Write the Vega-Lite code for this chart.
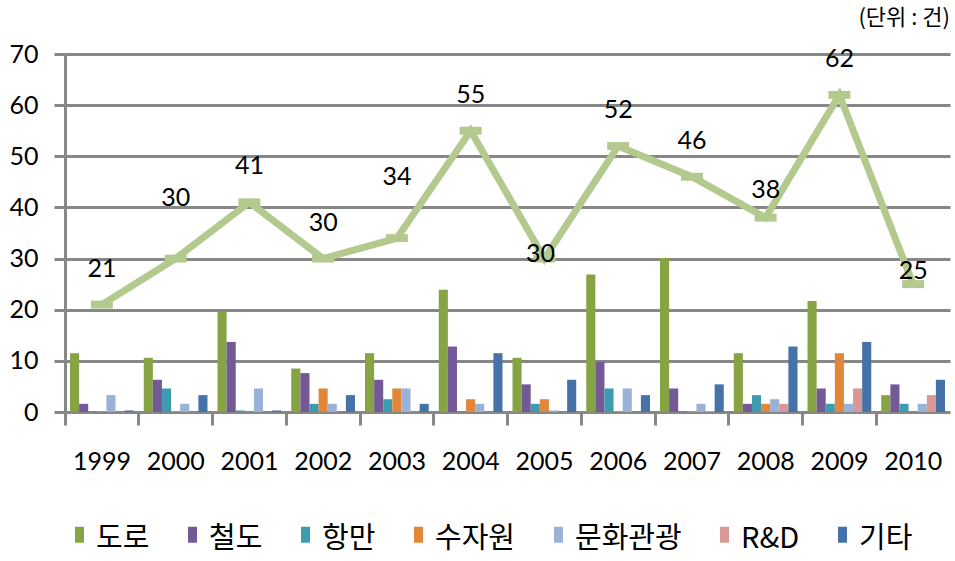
{
  "$schema": "https://vega.github.io/schema/vega-lite/v6.json",
  "width": 885,
  "height": 358,
  "autosize": {"type": "none"},
  "padding": {"left": 65, "top": 54, "right": 5, "bottom": 149},
  "config": {"font": "Lato", "view": {"stroke": null}},
  "title": {"text": "(단위  :  건)", "anchor": "end", "font": "Noto Sans CJK KR", "fontSize": 22, "fontWeight": "normal", "color": "#000000", "offset": 12},
  "datasets": {
    "bars": [
      {"year": "1999", "cat": "도로", "value": 11.5}, {"year": "1999", "cat": "철도", "value": 1.6}, {"year": "1999", "cat": "항만", "value": 0.2}, {"year": "1999", "cat": "수자원", "value": 0.2}, {"year": "1999", "cat": "문화관광", "value": 3.3}, {"year": "1999", "cat": "R&D", "value": 0}, {"year": "1999", "cat": "기타", "value": 0.3},
      {"year": "2000", "cat": "도로", "value": 10.6}, {"year": "2000", "cat": "철도", "value": 6.3}, {"year": "2000", "cat": "항만", "value": 4.6}, {"year": "2000", "cat": "수자원", "value": 0.2}, {"year": "2000", "cat": "문화관광", "value": 1.6}, {"year": "2000", "cat": "R&D", "value": 0}, {"year": "2000", "cat": "기타", "value": 3.3},
      {"year": "2001", "cat": "도로", "value": 19.6}, {"year": "2001", "cat": "철도", "value": 13.7}, {"year": "2001", "cat": "항만", "value": 0.3}, {"year": "2001", "cat": "수자원", "value": 0}, {"year": "2001", "cat": "문화관광", "value": 4.6}, {"year": "2001", "cat": "R&D", "value": 0}, {"year": "2001", "cat": "기타", "value": 0.3},
      {"year": "2002", "cat": "도로", "value": 8.5}, {"year": "2002", "cat": "철도", "value": 7.6}, {"year": "2002", "cat": "항만", "value": 1.6}, {"year": "2002", "cat": "수자원", "value": 4.6}, {"year": "2002", "cat": "문화관광", "value": 1.6}, {"year": "2002", "cat": "R&D", "value": 0}, {"year": "2002", "cat": "기타", "value": 3.3},
      {"year": "2003", "cat": "도로", "value": 11.5}, {"year": "2003", "cat": "철도", "value": 6.3}, {"year": "2003", "cat": "항만", "value": 2.5}, {"year": "2003", "cat": "수자원", "value": 4.6}, {"year": "2003", "cat": "문화관광", "value": 4.6}, {"year": "2003", "cat": "R&D", "value": 0}, {"year": "2003", "cat": "기타", "value": 1.6},
      {"year": "2004", "cat": "도로", "value": 23.9}, {"year": "2004", "cat": "철도", "value": 12.8}, {"year": "2004", "cat": "항만", "value": 0.2}, {"year": "2004", "cat": "수자원", "value": 2.5}, {"year": "2004", "cat": "문화관광", "value": 1.6}, {"year": "2004", "cat": "R&D", "value": 0}, {"year": "2004", "cat": "기타", "value": 11.5},
      {"year": "2005", "cat": "도로", "value": 10.6}, {"year": "2005", "cat": "철도", "value": 5.4}, {"year": "2005", "cat": "항만", "value": 1.6}, {"year": "2005", "cat": "수자원", "value": 2.5}, {"year": "2005", "cat": "문화관광", "value": 0.3}, {"year": "2005", "cat": "R&D", "value": 0}, {"year": "2005", "cat": "기타", "value": 6.3},
      {"year": "2006", "cat": "도로", "value": 26.9}, {"year": "2006", "cat": "철도", "value": 9.8}, {"year": "2006", "cat": "항만", "value": 4.6}, {"year": "2006", "cat": "수자원", "value": 0.2}, {"year": "2006", "cat": "문화관광", "value": 4.6}, {"year": "2006", "cat": "R&D", "value": 0}, {"year": "2006", "cat": "기타", "value": 3.3},
      {"year": "2007", "cat": "도로", "value": 30.1}, {"year": "2007", "cat": "철도", "value": 4.6}, {"year": "2007", "cat": "항만", "value": 0.2}, {"year": "2007", "cat": "수자원", "value": 0.2}, {"year": "2007", "cat": "문화관광", "value": 1.6}, {"year": "2007", "cat": "R&D", "value": 0.2}, {"year": "2007", "cat": "기타", "value": 5.4},
      {"year": "2008", "cat": "도로", "value": 11.5}, {"year": "2008", "cat": "철도", "value": 1.6}, {"year": "2008", "cat": "항만", "value": 3.3}, {"year": "2008", "cat": "수자원", "value": 1.6}, {"year": "2008", "cat": "문화관광", "value": 2.5}, {"year": "2008", "cat": "R&D", "value": 1.6}, {"year": "2008", "cat": "기타", "value": 12.8},
      {"year": "2009", "cat": "도로", "value": 21.7}, {"year": "2009", "cat": "철도", "value": 4.6}, {"year": "2009", "cat": "항만", "value": 1.6}, {"year": "2009", "cat": "수자원", "value": 11.5}, {"year": "2009", "cat": "문화관광", "value": 1.6}, {"year": "2009", "cat": "R&D", "value": 4.6}, {"year": "2009", "cat": "기타", "value": 13.7},
      {"year": "2010", "cat": "도로", "value": 3.3}, {"year": "2010", "cat": "철도", "value": 5.4}, {"year": "2010", "cat": "항만", "value": 1.6}, {"year": "2010", "cat": "수자원", "value": 0}, {"year": "2010", "cat": "문화관광", "value": 1.6}, {"year": "2010", "cat": "R&D", "value": 3.3}, {"year": "2010", "cat": "기타", "value": 6.3}
    ],
    "total": [
      {"year": "1999", "total": 21}, {"year": "2000", "total": 30}, {"year": "2001", "total": 41}, {"year": "2002", "total": 30},
      {"year": "2003", "total": 34}, {"year": "2004", "total": 55}, {"year": "2005", "total": 30}, {"year": "2006", "total": 52},
      {"year": "2007", "total": 46}, {"year": "2008", "total": 38}, {"year": "2009", "total": 62}, {"year": "2010", "total": 25}
    ]
  },
  "layer": [
    {
      "data": {"name": "bars"},
      "mark": {"type": "bar"},
      "encoding": {
        "x": {"field": "year", "type": "nominal", "scale": {"paddingInner": 0, "paddingOuter": 0},
          "axis": {"title": null, "orient": "bottom", "bandPosition": 0, "ticks": true, "tickSize": 13, "tickWidth": 3, "tickColor": "#878787",
            "domain": false, "labelAngle": 0, "labelAlign": "center", "labelFontSize": 25, "labelColor": "#000000", "labelPadding": 24}},
        "xOffset": {"field": "cat", "type": "nominal", "sort": ["도로", "철도", "항만", "수자원", "문화관광", "R&D", "기타"], "scale": {"paddingInner": 0, "paddingOuter": 0.55}},
        "y": {"field": "value", "type": "quantitative", "scale": {"domain": [0, 70], "nice": false},
          "axis": {"title": null, "values": [0, 10, 20, 30, 40, 50, 60, 70], "grid": true, "gridColor": "#878787", "gridWidth": 3, "gridOpacity": 1,
            "domainColor": "#878787", "domainWidth": 3, "tickColor": "#878787", "tickWidth": 3, "tickSize": 11,
            "labelFontSize": 25, "labelColor": "#000000", "labelPadding": 16}},
        "color": {"field": "cat", "type": "nominal",
          "scale": {"domain": ["도로", "철도", "항만", "수자원", "문화관광", "R&D", "기타"],
            "range": ["#86a444", "#735a97", "#3e9cb1", "#e2873a", "#9ab1d8", "#d99795", "#4572a7"]},
          "legend": {"title": null, "orient": "bottom", "direction": "horizontal", "symbolType": "M-0.6,-1.6H0.6V0.53H-0.6Z", "symbolSize": 225,
            "labelFontSize": 29, "labelFont": "Noto Sans CJK KR", "labelColor": "#000000", "labelOffset": 2, "columnPadding": 28, "offset": 50, "symbolStrokeWidth": 0}}
      }
    },
    {
      "data": {"name": "total"},
      "mark": {"type": "line", "color": "#b3c98e", "strokeWidth": 7},
      "encoding": {
        "x": {"field": "year", "type": "nominal"},
        "y": {"field": "total", "type": "quantitative"}
      }
    },
    {
      "data": {"name": "total"},
      "mark": {"type": "point", "shape": "M-1,-0.36H1V0.36H-1Z", "size": 484, "filled": true, "color": "#b3c98e", "opacity": 1},
      "encoding": {
        "x": {"field": "year", "type": "nominal"},
        "y": {"field": "total", "type": "quantitative"}
      }
    },
    {
      "data": {"name": "total"},
      "transform": [{"filter": "indexof(['1999','2001','2002','2004','2006','2007','2009'], datum.year) >= 0"}],
      "mark": {"type": "text", "fontSize": 25, "dy": -36, "color": "#000000"},
      "encoding": {
        "x": {"field": "year", "type": "nominal"},
        "y": {"field": "total", "type": "quantitative"},
        "text": {"field": "total"}
      }
    },
    {
      "data": {"name": "total"},
      "transform": [{"filter": "datum.year == '2000' || datum.year == '2003'"}],
      "mark": {"type": "text", "fontSize": 25, "dy": -61, "color": "#000000"},
      "encoding": {
        "x": {"field": "year", "type": "nominal"},
        "y": {"field": "total", "type": "quantitative"},
        "text": {"field": "total"}
      }
    },
    {
      "data": {"name": "total"},
      "transform": [{"filter": "datum.year == '2008'"}],
      "mark": {"type": "text", "fontSize": 25, "dy": -28, "color": "#000000"},
      "encoding": {
        "x": {"field": "year", "type": "nominal"},
        "y": {"field": "total", "type": "quantitative"},
        "text": {"field": "total"}
      }
    },
    {
      "data": {"name": "total"},
      "transform": [{"filter": "datum.year == '2010'"}],
      "mark": {"type": "text", "fontSize": 25, "dy": -13, "color": "#000000"},
      "encoding": {
        "x": {"field": "year", "type": "nominal"},
        "y": {"field": "total", "type": "quantitative"},
        "text": {"field": "total"}
      }
    },
    {
      "data": {"name": "total"},
      "transform": [{"filter": "datum.year == '2005'"}],
      "mark": {"type": "text", "fontSize": 25, "dy": -5, "dx": -4, "color": "#000000"},
      "encoding": {
        "x": {"field": "year", "type": "nominal"},
        "y": {"field": "total", "type": "quantitative"},
        "text": {"field": "total"}
      }
    }
  ]
}
